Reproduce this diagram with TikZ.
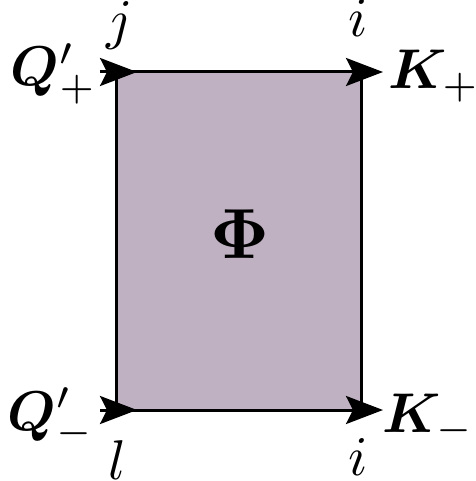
\documentclass[tikz,border=0pt]{standalone}
\usepackage{graphicx}
\usepackage{amsmath,bm}
\usetikzlibrary{arrows.meta}
\definecolor{boxfill}{RGB}{192,177,194}
\newcommand{\bigtxt}[1]{\scalebox{5.6}{#1}}
\begin{document}
\begin{tikzpicture}[x=1pt,y=-1pt,
  edge/.style={line width=3pt,black},
  tipped/.style={edge,-{Stealth[length=37pt,width=28pt,inset=7pt]}},
  lab/.style={inner sep=0pt},
  idx/.style={inner sep=0pt,anchor=base}]
\useasboundingbox (0,0) rectangle (475,481);
\coordinate (tl) at (116,72);
\coordinate (tr) at (361,72);
\coordinate (bl) at (116,410);
\coordinate (br) at (361,410);
\coordinate (tlA) at (100,72);
\coordinate (tlB) at (137,72);
\coordinate (blA) at (100,410);
\coordinate (blB) at (137,410);
\coordinate (trB) at (383,72);
\coordinate (brB) at (383,410);
\fill[boxfill] (tl) rectangle (br);
\draw[edge] (tl) rectangle (br);
\draw[tipped] (tl) -- (trB);
\draw[tipped] (bl) -- (brB);
\draw[tipped] (tlA) -- (tlB);
\draw[tipped] (blA) -- (blB);
\node[inner sep=0pt] (phi) at (240,234) {\scalebox{7.1}{$\mathbf{\Phi}$}};
\node[lab,anchor=base east] (qp) at (97,86) {\bigtxt{$\bm{Q}'_{+}$}};
\node[lab,anchor=base east] (qm) at (94,430) {\bigtxt{$\bm{Q}'_{-}$}};
\node[lab,anchor=base west] (kp) at (388,89) {\bigtxt{$\bm{K}_{+}$}};
\node[lab,anchor=base west] (km) at (382,432) {\bigtxt{$\bm{K}_{-}$}};
\node[idx] (j) at (120,39) {\bigtxt{$j$}};
\node[idx] (it) at (358,37) {\bigtxt{$i$}};
\node[idx] (l) at (117,479) {\bigtxt{$l$}};
\node[idx] (ib) at (358,475) {\bigtxt{$i$}};
\end{tikzpicture}
\end{document}
